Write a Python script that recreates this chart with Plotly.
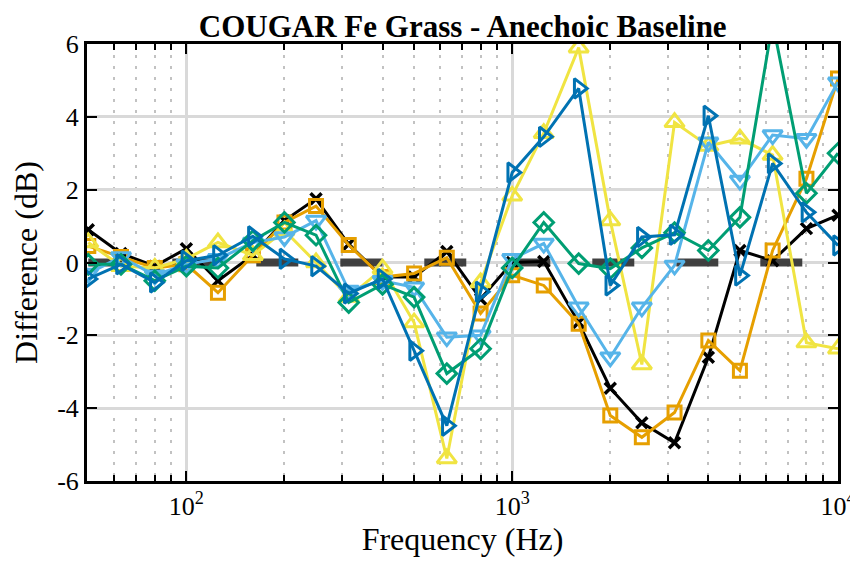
import plotly.graph_objects as go

freq = [50, 63, 80, 100, 125, 160, 200, 250, 315, 400, 500, 630, 800,
        1000, 1250, 1600, 2000, 2500, 3150, 4000, 5000, 6300, 8000, 10000]

black_vals = [0.9, 0.25, -0.1, 0.38, -0.5, 0.2, 1.15, 1.75, 0.5, -0.4, -0.4, 0.3,
              -1.0, 0.0, 0.03, -1.65, -3.45, -4.4, -4.95, -2.6, 0.33, 0.05, 0.93, 1.3]
orange_vals = [0.45, 0.15, -0.15, -0.05, -0.83, 0.2, 1.1, 1.55, 0.48, -0.4, -0.3, 0.13,
               -1.4, -0.35, -0.63, -1.68, -4.2, -4.8, -4.12, -2.14, -2.97, 0.33, 2.3, 5.05]
yellow_vals = [0.55, -0.1, -0.15, 0.1, 0.55, 0.2, 0.88, 0.0, -0.95, -0.17, -1.65, -5.38,
               -0.55, 1.83, 3.55, 5.9, 1.15, -2.8, 3.85, 3.2, 3.4, 2.95, -2.2, -2.37]
lightblue_vals = [-0.3, 0.15, -0.35, -0.05, 0.1, 0.55, 0.7, 1.15, -0.77, -0.5, -0.68, -2.05,
                  -2.0, 0.1, 0.52, -1.23, -2.6, -1.23, -0.08, 3.3, 2.25, 3.5, 3.4, 4.95]
green_vals = [-0.05, -0.05, -0.5, -0.1, -0.15, 0.6, 1.1, 0.75, -1.1, -0.6, -0.95, -3.05,
              -2.37, -0.15, 1.1, -0.03, -0.17, 0.4, 0.82, 0.33, 1.24, 6.6, 1.9, 3.0]
darkblue_vals = [-0.45, -0.05, -0.55, 0.05, 0.2, 0.72, 0.1, -0.1, -0.85, -0.45, -2.42, -4.48,
                 -0.8, 2.47, 3.45, 4.78, -0.63, 0.7, 0.76, 4.03, -0.36, 2.72, 1.38, 0.47]
baseline_vals = [0.0] * len(freq)

x_tickvals = [100, 1000, 10000]
x_ticktext = ["10<sup>2</sup>", "10<sup>3</sup>", "10<sup>4</sup>"]
x_minorvals = [60, 70, 80, 90, 200, 300, 400, 500, 600, 700, 800, 900,
               2000, 3000, 4000, 5000, 6000, 7000, 8000, 9000]
y_tickvals = [-6, -4, -2, 0, 2, 4, 6]
y_ticktext = ["-6", "-4", "-2", "0", "2", "4", "6"]

FONT = "Liberation Serif"

fig = go.Figure()

fig.add_trace(go.Scatter(x=freq, y=baseline_vals, mode="lines",
                         line=dict(color="rgba(55,55,55,0.95)", width=8, dash="42px,42px"),
                         showlegend=False, hoverinfo="skip"))

series = [
    (black_vals, "#000000", "x-thin-open", 11, 3.5),
    (orange_vals, "#E69F00", "square-open", 13, 3),
    (yellow_vals, "#F0E442", "triangle-up-open", 17, 3),
    (lightblue_vals, "#56B4E9", "triangle-down-open", 17, 3),
    (green_vals, "#009E73", "diamond-open", 15, 3),
    (darkblue_vals, "#0072B2", "triangle-right-open", 17, 3),
]
for vals, col, sym, sz, mlw in series:
    fig.add_trace(go.Scatter(
        x=freq, y=vals, mode="lines+markers",
        line=dict(color=col, width=3),
        marker=dict(symbol=sym, size=sz, color=col, line=dict(color=col, width=mlw)),
        showlegend=False, cliponaxis=True))

fig.update_layout(
    width=858, height=572,
    margin=dict(l=79, r=28, t=36, b=99, autoexpand=False),
    paper_bgcolor="white", plot_bgcolor="white",
    font=dict(family=FONT, color="black", size=26),
    title=dict(text="<b>COUGAR Fe Grass - Anechoic Baseline</b>",
               x=0.53, xanchor="center", y=0.988, yanchor="top",
               font=dict(family=FONT, size=31, color="black")),
)

fig.update_xaxes(
    type="log", range=[1.695, 4], automargin=False,
    tickmode="array", tickvals=x_tickvals, ticktext=x_ticktext,
    ticks="inside", ticklen=10, tickwidth=2, tickcolor="black",
    showline=True, linecolor="black", linewidth=3, mirror="ticks",
    showgrid=True, gridcolor="#d9d9d9", gridwidth=3,
    zeroline=False,
    tickfont=dict(family=FONT, size=26),
    title=dict(text="Frequency (Hz)", font=dict(family=FONT, size=32), standoff=4),
    minor=dict(tickmode="array", tickvals=x_minorvals, ticks="inside", ticklen=6,
               tickwidth=2, tickcolor="black", showgrid=True,
               gridcolor="#c2c2c2", gridwidth=2, griddash="3px,8px"),
)
fig.update_yaxes(
    range=[-6, 6], automargin=False,
    tickmode="array", tickvals=y_tickvals, ticktext=y_ticktext,
    ticks="inside", ticklen=10, tickwidth=2, tickcolor="black",
    showline=True, linecolor="black", linewidth=3, mirror="ticks",
    showgrid=True, gridcolor="#d9d9d9", gridwidth=3,
    zeroline=False,
    tickfont=dict(family=FONT, size=26),
    title=dict(text="Difference (dB)", font=dict(family=FONT, size=32), standoff=12),
)

fig.write_html("out.html")
